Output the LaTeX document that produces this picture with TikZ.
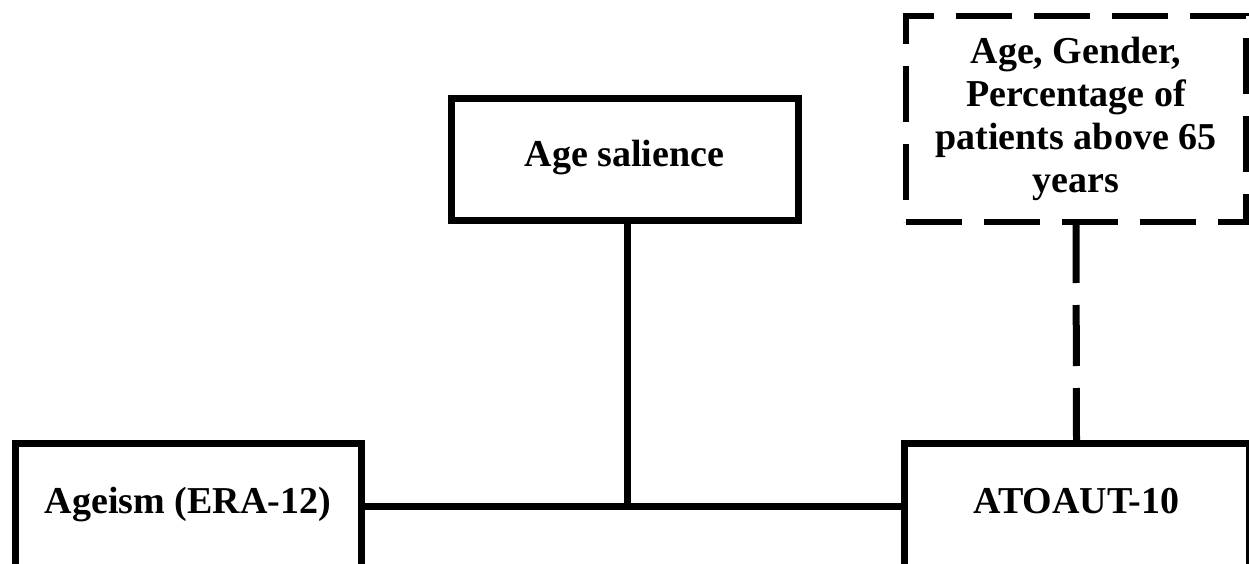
\documentclass[tikz,border=0pt]{standalone}
\usepackage{fontspec}
\setmainfont{Liberation Serif}
\begin{document}
\begin{tikzpicture}[x=1pt,y=-1pt,line join=miter,font=\fontsize{38}{43}\selectfont\bfseries,
	box/.style={draw,line width=7pt,rectangle,inner sep=0pt,outer sep=0pt,text height=27pt,text depth=12pt},
	notebox/.style={draw,line width=5.5pt,rectangle,inner sep=0pt,outer sep=0pt,align=center,dash pattern=on 56pt off 22pt},
	link/.style={line width=7pt}]
	\useasboundingbox (0,0) rectangle (1249,564);
	\clip (0,0) rectangle (1249,564);
	\node[box,minimum width=346pt,minimum height=125pt] (ageism) at (188,506) {Ageism (ERA-12)};
	\node[box,minimum width=345pt,minimum height=125pt] (atoaut) at (1076.5,506) {ATOAUT-10};
	\node[box,minimum width=347pt,minimum height=121pt] (salience) at (624.5,159.5) {Age salience};
	\node[notebox,minimum width=340pt,minimum height=206pt] (covar) at (1076,119) {Age, Gender,\\Percentage of\\patients above 65\\years};
	\coordinate (mid) at (627,506);
	\draw[link] (ageism.east) -- (atoaut.west);
	\draw[link] (salience.south -| mid) -- (mid);
	\draw[link,dash pattern=on 61pt off 22pt] (covar.south) -- (atoaut.north);
\end{tikzpicture}
\end{document}
